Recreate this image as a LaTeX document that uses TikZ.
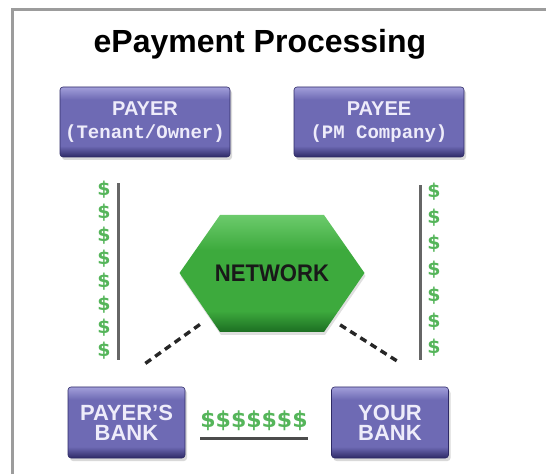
\documentclass[tikz,border=0pt]{standalone}
\usepackage{fontspec}
\setmainfont{Liberation Sans}
\newfontfamily\boxmono{Liberation Mono}
\newfontfamily\cashface{DejaVu Sans}
\usetikzlibrary{shadows}

\definecolor{boxlight}{HTML}{A29FDA}
\definecolor{boxmid}{HTML}{6E6AB4}
\definecolor{boxdark}{HTML}{2E2A66}
\definecolor{boxtext}{HTML}{EEECFA}
\definecolor{netlight}{HTML}{6CCB6C}
\definecolor{netmid}{HTML}{3DAA3D}
\definecolor{netdark}{HTML}{1C6E22}
\definecolor{cashgreen}{HTML}{55B55A}
\definecolor{framegray}{HTML}{9C9C9C}
\definecolor{railgray}{HTML}{666666}

\pgfdeclareverticalshading{boxshade}{100bp}{color(0bp)=(boxdark); color(25bp)=(boxdark); color(33bp)=(boxmid); color(66bp)=(boxmid); color(75bp)=(boxlight); color(100bp)=(boxlight)}
\pgfdeclareverticalshading{netshade}{100bp}{color(0bp)=(netdark); color(25bp)=(netdark); color(34bp)=(netmid); color(60bp)=(netmid); color(75bp)=(netlight); color(100bp)=(netlight)}

\tikzset{
  partybox/.style={rounded corners=3pt, shading=boxshade, draw=boxdark, line width=0.6pt,
    minimum width=170pt, minimum height=70pt, text=boxtext, align=center,
    font=\bfseries\fontsize{20}{23}\selectfont,
    drop shadow={opacity=0.3, shadow xshift=2pt, shadow yshift=-3pt}},
  bankbox/.style={partybox, minimum width=117pt, minimum height=71pt,
    font=\bfseries\fontsize{22}{20}\selectfont},
  rail/.style={railgray, line width=3pt},
  netlink/.style={black!85, line width=3.4pt, dash pattern=on 7pt off 5pt},
  cash/.style={text=cashgreen, align=center, inner sep=0pt}
}

\begin{document}
\begin{tikzpicture}[x=1pt,y=1pt]
    \useasboundingbox (0,0) rectangle (546,474);
    % frame
    \draw[framegray, line width=3pt] (12,0) -- (12,464) -- (546,464);

    % title
    \node[anchor=base, font=\bfseries\fontsize{32}{38}\selectfont] (title) at (260,421) {ePayment Processing};

    % parties and banks
    \node[partybox] (payer) at (145,352) {PAYER\\{\boxmono\bfseries\fontsize{19}{23}\selectfont (Tenant/Owner)}};
    \node[partybox] (payee) at (379,352) {PAYEE\\{\boxmono\bfseries\fontsize{19}{23}\selectfont (PM Company)}};
    \node[bankbox] (payerbank) at (126.5,51.5) {PAYER’S\\BANK};
    \node[bankbox] (yourbank) at (390,51.5) {YOUR\\BANK};

    % network hexagon
    \path[shading=netshade, drop shadow={opacity=0.25, shadow xshift=1pt, shadow yshift=-3pt}]
        (179.5,201) -- (220,259) -- (324,259) -- (364.5,201) -- (324,142) -- (220,142) -- cycle;
    \node[font=\bfseries\fontsize{24}{24}\selectfont, text=black!90] (network) at (272,201) {\scalebox{0.92}[1]{NETWORK}};

    % money rails
    \draw[rail, shorten <=26pt, shorten >=27pt] ([xshift=-27pt]payer.south) -- ([xshift=-27pt]payer.south |- payerbank.north);
    \draw[rail, shorten <=28pt, shorten >=27pt] ([xshift=41pt]payee.south) -- ([xshift=41pt]payee.south |- yourbank.north);
    \node[cash, font=\cashface\bfseries\fontsize{19}{23}\selectfont] (leftcash) at (104,204) {\$\\\$\\\$\\\$\\\$\\\$\\\$\\\$};
    \node[cash, font=\cashface\bfseries\fontsize{19}{26}\selectfont] (rightcash) at (434,204.5) {\$\\\$\\\$\\\$\\\$\\\$\\\$};
    \node[cash, anchor=base, font=\cashface\bfseries\fontsize{22}{24}\selectfont] (bankcash) at (254,47) {\$\$\$\$\$\$\$};
    \draw[rail, black!70] ([yshift=-11pt]bankcash.base west) -- ([yshift=-11pt]bankcash.base east);

    % network links
    \draw[netlink, shorten <=88.6pt, shorten >=37pt] (network.center) -- (payerbank.111);
    \draw[netlink, shorten <=96.7pt, shorten >=46.5pt] ([xshift=-13.5pt]network.center) -- (yourbank.37);
\end{tikzpicture}
\end{document}
